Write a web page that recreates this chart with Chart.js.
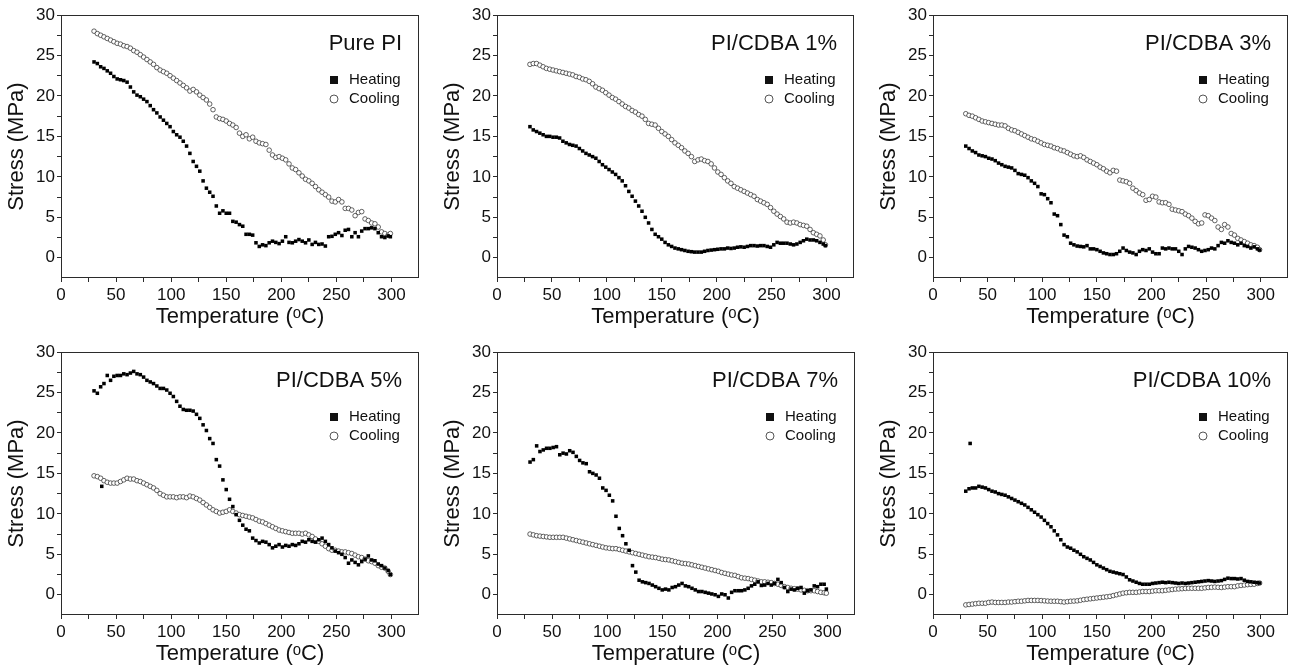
<!DOCTYPE html>
<html>
<head>
<meta charset="utf-8">
<script src="https://cdn.jsdelivr.net/npm/chart.js@4.4.1/dist/chart.umd.min.js"></script>
<style>
  html, body { margin: 0; padding: 0; background: #fff; overflow: hidden; }
  body { width: 1295px; height: 669px; position: relative; }
  canvas { position: absolute; }
</style>
</head>
<body>
<script>
// temperature grid (°C) the curves were read at
const temps = [
  30, 33, 36, 39, 42, 45, 48, 51, 54, 57,
  60, 63, 66, 69, 72, 75, 78, 81, 84, 87,
  90, 93, 96, 99, 102, 105, 108, 111, 114, 117,
  120, 123, 126, 129, 132, 135, 138, 141, 144, 147,
  150, 153, 156, 159, 162, 165, 168, 171, 174, 177,
  180, 183, 186, 189, 192, 195, 198, 201, 204, 207,
  210, 213, 216, 219, 222, 225, 228, 231, 234, 237,
  240, 243, 246, 249, 252, 255, 258, 261, 264, 267,
  270, 273, 276, 279, 282, 285, 288, 291, 294, 297,
  299];

const panelNames = ['Pure PI', 'PI/CDBA 1%', 'PI/CDBA 3%', 'PI/CDBA 5%', 'PI/CDBA 7%', 'PI/CDBA 10%'];

// stress (MPa) on the grid above
const heatPure = [
  24.2, 24.0, 23.6, 23.4, 23.1, 22.8, 22.4, 22.1, 22.0, 21.9,
  21.7, 21.1, 20.5, 20.1, 19.9, 19.6, 19.3, 18.8, 18.3, 17.9,
  17.4, 17.0, 16.6, 16.2, 15.6, 15.2, 14.9, 14.4, 13.8, 12.9,
  11.9, 11.3, 10.7, 9.5, 8.6, 8.1, 7.6, 6.4, 5.5, 5.8,
  5.5, 5.5, 4.5, 4.4, 4.1, 3.9, 2.9, 2.9, 2.8, 1.85,
  1.4, 1.6, 1.5, 1.85, 2.05, 1.9, 1.75, 2.05, 2.6, 1.9,
  1.85, 2.05, 2.25, 2.05, 1.85, 2.2, 1.65, 1.9, 1.65, 1.7,
  1.45, 2.6, 2.65, 2.9, 3.1, 2.75, 3.4, 3.5, 2.6, 3.1,
  2.6, 3.3, 3.6, 3.6, 3.7, 3.6, 3.1, 2.6, 2.5, 2.7,
  2.6];
const coolPure = [
  28.0, 27.7, 27.5, 27.3, 27.1, 26.9, 26.7, 26.5, 26.4, 26.2,
  26.1, 25.9, 25.6, 25.4, 25.1, 24.8, 24.5, 24.2, 23.9, 23.5,
  23.2, 23.0, 22.8, 22.5, 22.2, 21.9, 21.6, 21.3, 21.0, 20.6,
  20.8, 20.5, 20.1, 19.8, 19.5, 19.0, 18.3, 17.4, 17.2, 17.1,
  16.9, 16.6, 16.4, 16.1, 15.4, 15.0, 15.2, 14.7, 14.9, 14.4,
  14.2, 14.1, 14.0, 13.3, 12.7, 12.4, 12.5, 12.3, 12.1, 11.6,
  11.1, 10.9, 10.5, 10.1, 9.7, 9.5, 9.2, 8.8, 8.4, 8.1,
  7.8, 7.5, 7.0, 6.9, 7.2, 6.9, 6.1, 6.1, 5.9, 5.2,
  5.6, 5.7, 4.8, 4.6, 4.3, 4.2, 3.8, 3.2, 3.0, 2.8,
  3.0];
const heat1 = [
  16.2, 15.8, 15.6, 15.4, 15.2, 15.0, 15.0, 14.9, 14.9, 14.8,
  14.4, 14.2, 14.0, 13.9, 13.8, 13.5, 13.2, 12.9, 12.7, 12.5,
  12.3, 11.9, 11.5, 11.2, 10.9, 10.6, 10.3, 9.9, 9.5, 8.9,
  8.2, 7.6, 7.0, 6.4, 5.75, 5.0, 4.3, 3.5, 2.9, 2.6,
  2.3, 1.9, 1.6, 1.4, 1.2, 1.1, 1.0, 0.9, 0.8, 0.75,
  0.7, 0.7, 0.7, 0.8, 0.9, 0.95, 1.0, 1.05, 1.1, 1.1,
  1.2, 1.15, 1.2, 1.3, 1.35, 1.3, 1.4, 1.5, 1.5, 1.45,
  1.5, 1.5, 1.4, 1.3, 1.6, 1.9, 1.8, 1.8, 1.8, 1.7,
  1.6, 1.7, 1.9, 2.1, 2.3, 2.2, 2.2, 2.1, 1.9, 1.7,
  1.5];
const cool1 = [
  23.9, 24.0, 24.0, 23.8, 23.6, 23.4, 23.3, 23.2, 23.1, 23.0,
  22.9, 22.8, 22.7, 22.6, 22.4, 22.3, 22.1, 22.0, 21.8, 21.5,
  21.1, 20.9, 20.7, 20.4, 20.1, 19.8, 19.6, 19.3, 19.0, 18.7,
  18.5, 18.2, 18.0, 17.7, 17.5, 17.1, 16.6, 16.5, 16.4, 16.0,
  15.6, 15.3, 15.0, 14.6, 14.2, 13.9, 13.6, 13.2, 12.9, 12.5,
  11.9, 12.1, 12.2, 12.0, 11.9, 11.6, 11.1, 10.6, 10.3, 9.9,
  9.5, 9.2, 8.8, 8.6, 8.4, 8.2, 8.0, 7.8, 7.6, 7.2,
  7.0, 6.8, 6.6, 6.2, 5.75, 5.4, 5.1, 4.8, 4.4, 4.3,
  4.4, 4.3, 4.1, 4.0, 3.9, 3.5, 3.1, 2.9, 2.7, 2.2,
  1.6];
const heat3 = [
  13.8, 13.5, 13.2, 13.0, 12.7, 12.6, 12.5, 12.3, 12.2, 12.0,
  11.7, 11.5, 11.3, 11.2, 11.1, 10.8, 10.4, 10.3, 10.2, 9.9,
  9.5, 9.2, 8.8, 7.9, 7.8, 7.3, 6.8, 5.4, 5.2, 4.1,
  2.8, 2.6, 1.8, 1.6, 1.45, 1.4, 1.35, 1.5, 1.1, 1.1,
  1.0, 0.8, 0.6, 0.5, 0.4, 0.4, 0.5, 0.8, 1.2, 0.9,
  0.7, 0.6, 0.4, 0.8, 1.0, 0.9, 1.1, 0.7, 0.5, 0.5,
  1.2, 1.1, 1.2, 1.1, 1.1, 0.8, 0.4, 1.1, 1.4, 1.3,
  1.2, 1.0, 0.8, 0.9, 1.0, 1.2, 1.1, 1.5, 1.9, 1.8,
  2.1, 1.9, 1.8, 1.6, 1.8, 1.5, 1.4, 1.2, 1.35, 1.1,
  0.95];
const cool3 = [
  17.8, 17.6, 17.5, 17.3, 17.1, 16.9, 16.8, 16.7, 16.6, 16.5,
  16.4, 16.4, 16.3, 16.0, 15.8, 15.7, 15.5, 15.3, 15.1, 14.9,
  14.7, 14.6, 14.4, 14.2, 14.0, 13.9, 13.8, 13.6, 13.5, 13.3,
  13.2, 13.0, 12.8, 12.6, 12.5, 12.6, 12.4, 12.1, 11.9, 11.7,
  11.5, 11.2, 11.0, 10.7, 10.5, 10.8, 10.7, 9.6, 9.5, 9.4,
  9.2, 8.6, 8.3, 8.0, 7.8, 7.1, 7.2, 7.6, 7.5, 6.9,
  6.8, 6.8, 6.6, 6.0, 5.9, 5.8, 5.7, 5.4, 5.2, 4.9,
  4.5, 4.2, 4.3, 5.3, 5.2, 4.9, 4.6, 3.8, 3.5, 4.1,
  3.8, 3.0, 2.8, 2.4, 2.2, 2.0, 1.8, 1.6, 1.5, 1.3,
  1.0];
const heat5 = [
  25.2, 24.9, 25.7, 26.1, 27.1, 26.5, 27.0, 27.1, 27.1, 27.3,
  27.2, 27.4, 27.6, 27.3, 27.2, 26.9, 26.5, 26.3, 26.1, 25.8,
  25.5, 25.5, 25.3, 24.9, 24.5, 23.9, 23.3, 22.9, 22.8, 22.8,
  22.7, 22.3, 21.8, 21.0, 20.3, 19.3, 18.7, 16.7, 15.9, 14.2,
  13.0, 11.8, 10.9, 9.9, 9.2, 8.6, 8.1, 7.9, 7.0, 6.7,
  6.4, 6.6, 6.5, 6.2, 5.8, 6.0, 6.2, 5.9, 6.1, 6.0,
  6.2, 6.1, 6.3, 6.6, 6.5, 6.8, 6.6, 6.5, 6.8, 7.0,
  6.6, 6.2, 5.8, 5.4, 5.2, 5.0, 4.6, 3.9, 4.3, 4.0,
  3.7, 4.1, 4.4, 4.8, 4.3, 4.2, 3.8, 3.6, 3.3, 3.0,
  2.5];
const cool5 = [
  14.7, 14.6, 14.4, 14.1, 13.9, 13.8, 13.8, 13.8, 14.0, 14.2,
  14.4, 14.3, 14.3, 14.1, 14.0, 13.8, 13.6, 13.4, 13.2, 12.9,
  12.5, 12.3, 12.1, 12.1, 12.1, 12.0, 12.1, 12.1, 12.0, 12.2,
  12.1, 11.9, 11.7, 11.4, 11.1, 10.8, 10.5, 10.3, 10.1, 10.2,
  10.3, 10.5, 10.3, 10.1, 9.9, 9.8, 9.7, 9.6, 9.5, 9.3,
  9.1, 9.0, 8.8, 8.6, 8.4, 8.2, 8.0, 7.9, 7.8, 7.7,
  7.6, 7.6, 7.6, 7.5, 7.6, 7.4, 7.2, 6.9, 6.6, 6.3,
  6.0, 5.7, 5.5, 5.5, 5.4, 5.3, 5.3, 5.2, 5.1, 4.9,
  4.7, 4.6, 4.4, 4.2, 4.1, 3.9, 3.6, 3.4, 3.3, 2.9,
  2.5];
const heat7 = [
  16.4, 16.7, 18.4, 17.7, 17.9, 18.1, 18.1, 18.2, 18.3, 17.3,
  17.5, 17.4, 17.8, 17.6, 17.1, 16.6, 16.3, 16.2, 15.2, 15.0,
  14.8, 14.4, 13.2, 12.9, 12.3, 11.6, 9.7, 8.2, 7.3, 6.3,
  5.5, 3.6, 2.8, 1.8, 1.6, 1.5, 1.4, 1.2, 1.0, 0.8,
  0.6, 0.7, 0.6, 0.9, 1.0, 1.2, 1.4, 1.1, 1.0, 0.8,
  0.6, 0.4, 0.4, 0.3, 0.2, 0.1, 0.0, -0.2, 0.1, 0.0,
  -0.4, 0.3, 0.5, 0.5, 0.5, 0.6, 0.8, 1.1, 1.3, 1.6,
  1.15, 1.2, 1.4, 1.2, 1.4, 1.9, 1.5, 0.9, 0.4, 0.7,
  0.6, 0.8, 0.9, 0.2, 0.5, 0.6, 1.1, 1.0, 1.3, 1.3,
  0.7];
const cool7 = [
  7.5, 7.4, 7.3, 7.25, 7.2, 7.15, 7.1, 7.1, 7.1, 7.1,
  7.1, 7.0, 6.9, 6.8, 6.7, 6.6, 6.5, 6.4, 6.3, 6.2,
  6.1, 6.0, 5.9, 5.8, 5.75, 5.7, 5.7, 5.6, 5.5, 5.4,
  5.3, 5.2, 5.1, 5.0, 4.9, 4.8, 4.7, 4.65, 4.6, 4.5,
  4.4, 4.35, 4.3, 4.2, 4.1, 4.0, 3.9, 3.85, 3.8, 3.7,
  3.6, 3.5, 3.4, 3.3, 3.2, 3.1, 3.0, 2.9, 2.75, 2.65,
  2.55, 2.45, 2.4, 2.25, 2.1, 2.05, 2.0, 1.9, 1.8, 1.7,
  1.6, 1.6, 1.55, 1.5, 1.4, 1.3, 1.15, 1.0, 0.9, 0.8,
  0.75, 0.7, 0.6, 0.55, 0.5, 0.5, 0.5, 0.4, 0.3, 0.25,
  0.2];
const heat10 = [
  12.8, 13.1, 13.2, 13.2, 13.4, 13.3, 13.2, 13.0, 12.8, 12.7,
  12.5, 12.4, 12.3, 12.1, 11.9, 11.7, 11.5, 11.3, 11.1, 10.8,
  10.5, 10.2, 9.9, 9.6, 9.2, 8.8, 8.4, 7.9, 7.4, 6.8,
  6.2, 5.9, 5.75, 5.5, 5.3, 5.0, 4.7, 4.5, 4.3, 4.0,
  3.7, 3.5, 3.3, 3.1, 2.9, 2.8, 2.7, 2.6, 2.5, 2.2,
  1.85, 1.7, 1.55, 1.4, 1.3, 1.3, 1.3, 1.4, 1.45, 1.5,
  1.55, 1.5, 1.55, 1.5, 1.45, 1.4, 1.45, 1.4, 1.45, 1.5,
  1.55, 1.6, 1.65, 1.7, 1.75, 1.7, 1.65, 1.7, 1.75, 1.9,
  2.05, 2.0, 2.0, 1.95, 2.0, 1.8, 1.65, 1.6, 1.55, 1.5,
  1.45];
const cool10 = [
  -1.25, -1.2, -1.15, -1.1, -1.05, -1.05, -1.05, -0.95, -0.9, -0.95,
  -0.95, -0.95, -0.95, -0.9, -0.9, -0.85, -0.8, -0.8, -0.75, -0.7,
  -0.7, -0.7, -0.7, -0.72, -0.75, -0.78, -0.8, -0.8, -0.8, -0.85,
  -0.9, -0.85, -0.8, -0.78, -0.75, -0.68, -0.6, -0.55, -0.5, -0.45,
  -0.4, -0.35, -0.3, -0.25, -0.2, -0.1, 0.0, 0.1, 0.2, 0.25,
  0.3, 0.3, 0.3, 0.35, 0.4, 0.4, 0.4, 0.45, 0.5, 0.5,
  0.5, 0.55, 0.6, 0.65, 0.7, 0.72, 0.75, 0.78, 0.8, 0.8,
  0.8, 0.8, 0.8, 0.85, 0.9, 0.92, 0.95, 0.92, 0.9, 0.95,
  1.0, 1.0, 1.0, 1.1, 1.15, 1.2, 1.25, 1.28, 1.3, 1.4,
  1.45];

// lone heating points off the main curve
const strayTemp5 = [37], strayHeat5 = [13.4];
const strayTemp10 = [34], strayHeat10 = [18.7];

const xTickLabels = [0, 50, 100, 150, 200, 250, 300];
const yTickLabels = [0, 5, 10, 15, 20, 25, 30];

const heatSets = [heatPure, heat1, heat3, heat5, heat7, heat10];
const coolSets = [coolPure, cool1, cool3, cool5, cool7, cool10];
const strays = [null, null, null, [strayTemp5, strayHeat5], null, [strayTemp10, strayHeat10]];

// plot area boxes on the page: left, top, right, bottom
const plotBoxes = [
  [61, 15, 419, 278], [497, 15, 854, 278], [933, 15, 1288, 278],
  [61, 352, 419, 615], [497, 352, 855, 615], [933, 352, 1288, 615]
];

const FONT = "Arial, 'Liberation Sans', sans-serif";
const INK = '#2b2b2b';

const toPoints = (xs, ys) => xs.map((x, i) => ({ x: x, y: ys[i] }));

// box around the plot, panel name and the small legend
const framePlugin = {
  id: 'frame',
  afterDraw(chart) {
    const { ctx, chartArea: a } = chart;
    const name = chart.options.plugins.frame.name;
    ctx.save();
    ctx.strokeStyle = INK;
    ctx.lineWidth = 1;
    ctx.strokeRect(a.left + 0.5, a.top + 0.5, a.right - a.left - 1, a.bottom - a.top - 1);

    ctx.fillStyle = '#111';
    ctx.font = '22px ' + FONT;
    ctx.textAlign = 'right';
    ctx.textBaseline = 'alphabetic';
    ctx.fillText(name, a.right - 17, a.top + 35);

    ctx.font = '15px ' + FONT;
    ctx.textAlign = 'left';
    ctx.textBaseline = 'middle';
    ctx.fillRect(a.right - 89, a.top + 61, 8, 8);
    ctx.fillText('Heating', a.right - 70, a.top + 65);
    ctx.beginPath();
    ctx.arc(a.right - 85, a.top + 84, 4, 0, Math.PI * 2);
    ctx.lineWidth = 0.8;
    ctx.stroke();
    ctx.fillText('Cooling', a.right - 70, a.top + 84);
    ctx.restore();
  }
};

plotBoxes.forEach((box, i) => {
  const [pl, pt, pr, pb] = box;
  const canvas = document.createElement('canvas');
  canvas.width = pr - pl + 68;
  canvas.height = pb - pt + 71;
  canvas.style.left = (pl - 61) + 'px';
  canvas.style.top = (pt - 15) + 'px';
  document.body.appendChild(canvas);

  let heatPts = toPoints(temps, heatSets[i]);
  if (strays[i]) heatPts = heatPts.concat(toPoints(strays[i][0], strays[i][1]));

  new Chart(canvas.getContext('2d'), {
    type: 'scatter',
    data: {
      datasets: [{
        label: 'Heating',
        data: heatPts,
        pointStyle: 'rect',
        pointRadius: 2.5,
        borderWidth: 0,
        backgroundColor: '#000'
      }, {
        label: 'Cooling',
        data: toPoints(temps, coolSets[i]),
        pointStyle: 'circle',
        pointRadius: 2.3,
        borderWidth: 0.7,
        borderColor: '#222',
        backgroundColor: '#fff'
      }]
    },
    options: {
      responsive: false,
      animation: false,
      layout: { padding: { top: 15, right: 7, left: 0, bottom: 0 } },
      plugins: {
        legend: { display: false },
        tooltip: { enabled: false },
        frame: { name: panelNames[i] }
      },
      scales: {
        x: {
          type: 'linear',
          min: 0,
          max: 325,
          afterFit: s => { s.height = 56; },
          border: { display: false },
          grid: {
            drawOnChartArea: false,
            drawTicks: true,
            tickLength: 4,
            tickColor: c => (c.tick && c.tick.value > 300 ? 'rgba(0,0,0,0)' : INK)
          },
          ticks: {
            stepSize: 25,
            padding: 3,
            autoSkip: false,
            maxRotation: 0,
            color: '#111',
            font: { family: FONT, size: 17 },
            callback: v => (xTickLabels.includes(v) ? String(v) : '')
          },
          title: {
            display: true,
            text: 'Temperature (ᵒC)',
            color: '#111',
            font: { family: FONT, size: 22 },
            padding: { top: 0, bottom: 4 }
          }
        },
        y: {
          type: 'linear',
          min: -2.5,
          max: 30,
          afterFit: s => { s.width = 61; },
          border: { display: false },
          grid: {
            drawOnChartArea: false,
            drawTicks: true,
            tickLength: 4,
            tickColor: c => (c.tick && c.tick.value < 0 ? 'rgba(0,0,0,0)' : INK)
          },
          ticks: {
            stepSize: 2.5,
            padding: 2,
            autoSkip: false,
            color: '#111',
            font: { family: FONT, size: 17 },
            callback: v => (yTickLabels.includes(v) ? String(v) : '')
          },
          title: {
            display: true,
            text: 'Stress (MPa)',
            color: '#111',
            font: { family: FONT, size: 22 },
            padding: { top: 4, bottom: 0 }
          }
        }
      }
    },
    plugins: [framePlugin]
  });
});
</script>
</body>
</html>
